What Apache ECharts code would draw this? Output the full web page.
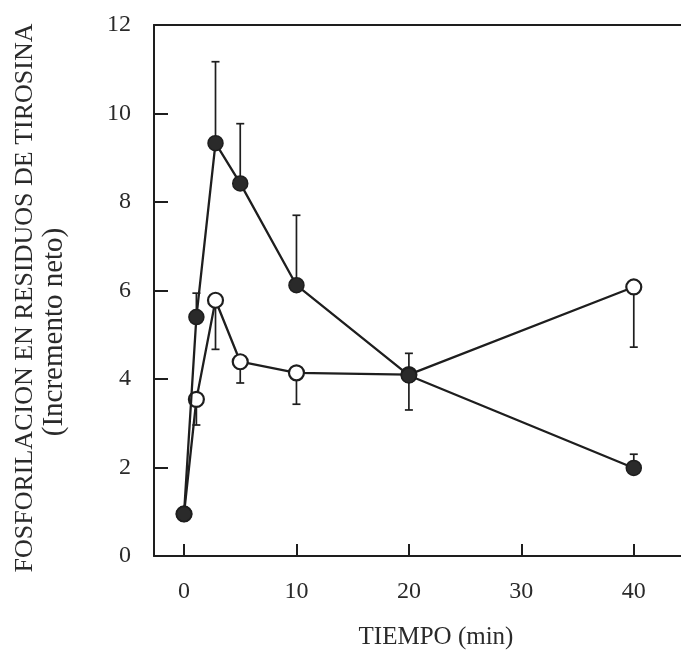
<!DOCTYPE html>
<html>
<head>
<meta charset="utf-8">
<script src="https://cdn.jsdelivr.net/npm/echarts@6/dist/echarts.min.js"></script>
<style>
  html, body { margin: 0; padding: 0; background: #fff; }
  #chart { width: 681px; height: 652px; }
</style>
</head>
<body>
<div id="chart"></div>
<script>
// Time points (min) and net tyrosine phosphorylation for both conditions
const tiempo = [0, 1.1, 2.8, 5, 10, 20, 40];
const llenos = [0.95, 5.4, 9.33, 8.42, 6.12, 4.08, 1.99];      // closed circles
const llenosSup = [null, 5.94, 11.17, 9.77, 7.7, 4.58, 2.3];    // upper error limit
const abiertos = [0.95, 3.54, 5.78, 4.39, 4.14, 4.1, 6.08];     // open circles
const abiertosInf = [null, 2.96, 4.67, 3.91, 3.43, 3.3, 4.72];  // lower error limit
const xTicks = [0, 10, 20, 30, 40];

const FONT = '"Liberation Serif", "DejaVu Serif", serif';
const INK = '#1e1e1e';
const TXT = '#2a2a2a';

const pairs = (xs, ys) => xs.map((x, i) => [x, ys[i]]);
const errRows = (xs, ys, lim) =>
  xs.map((x, i) => [x, ys[i], lim[i]]).filter(r => r[2] != null);

// Vertical error bar with a short cap at the far end
function errorBar(params, api) {
  const x = api.value(0);
  const a = api.coord([x, api.value(1)]);
  const b = api.coord([x, api.value(2)]);
  const hw = 4;
  const st = { stroke: INK, lineWidth: 1.7 };
  return {
    type: 'group',
    children: [
      { type: 'line', shape: { x1: a[0], y1: a[1], x2: b[0], y2: b[1] }, style: st },
      { type: 'line', shape: { x1: b[0] - hw, y1: b[1], x2: b[0] + hw, y2: b[1] }, style: st }
    ]
  };
}

const chart = echarts.init(document.getElementById('chart'), null, { renderer: 'canvas' });

chart.setOption({
  animation: false,
  backgroundColor: '#fff',
  grid: { left: 154, top: 25, right: 0, bottom: 96, containLabel: false },
  xAxis: [
    {
      type: 'value',
      min: -2.67,
      max: 44.2,
      splitLine: { show: false },
      axisLine: { show: true, onZero: false, lineStyle: { color: INK, width: 2 } },
      axisTick: { show: true, inside: true, length: 12, customValues: xTicks,
                  lineStyle: { color: INK, width: 2 } },
      axisLabel: { customValues: xTicks, margin: 24, color: TXT,
                   fontFamily: FONT, fontSize: 24 }
    },
    {
      type: 'value',
      position: 'top',
      min: -2.67,
      max: 44.2,
      splitLine: { show: false },
      axisLine: { show: true, onZero: false, lineStyle: { color: INK, width: 2 } },
      axisTick: { show: false },
      axisLabel: { show: false }
    }
  ],
  yAxis: {
    type: 'value',
    min: 0,
    max: 12,
    interval: 2,
    splitLine: { show: false },
    axisLine: { show: true, onZero: false, lineStyle: { color: INK, width: 2 } },
    axisTick: { show: true, inside: true, length: 14, lineStyle: { color: INK, width: 2 } },
    axisLabel: { margin: 23, color: TXT, fontFamily: FONT, fontSize: 24 }
  },
  series: [
    {
      type: 'custom',
      renderItem: errorBar,
      data: errRows(tiempo, llenos, llenosSup),
      z: 1
    },
    {
      type: 'custom',
      renderItem: errorBar,
      data: errRows(tiempo, abiertos, abiertosInf),
      z: 1
    },
    {
      type: 'line',
      data: pairs(tiempo, abiertos),
      symbol: 'circle',
      symbolSize: 15,
      lineStyle: { color: INK, width: 2.3 },
      itemStyle: { color: '#fff', borderColor: INK, borderWidth: 2.2 },
      z: 3
    },
    {
      type: 'line',
      data: pairs(tiempo, llenos),
      symbol: 'circle',
      symbolSize: 15,
      lineStyle: { color: INK, width: 2.3 },
      itemStyle: { color: '#2a2a2a', borderColor: INK, borderWidth: 1.5 },
      z: 4
    }
  ],
  graphic: [
    {
      type: 'text',
      x: 25, y: 298,
      rotation: Math.PI / 2,
      style: {
        text: 'FOSFORILACION EN RESIDUOS DE TIROSINA',
        font: '26px ' + FONT,
        fill: TXT,
        align: 'center', verticalAlign: 'middle'
      }
    },
    {
      type: 'text',
      x: 54, y: 332,
      rotation: Math.PI / 2,
      style: {
        text: '(Incremento neto)',
        font: '29px ' + FONT,
        fill: TXT,
        align: 'center', verticalAlign: 'middle'
      }
    },
    {
      type: 'text',
      x: 436, y: 637,
      style: {
        text: 'TIEMPO (min)',
        font: '25px ' + FONT,
        fill: TXT,
        align: 'center', verticalAlign: 'middle'
      }
    }
  ]
});
</script>
</body>
</html>
